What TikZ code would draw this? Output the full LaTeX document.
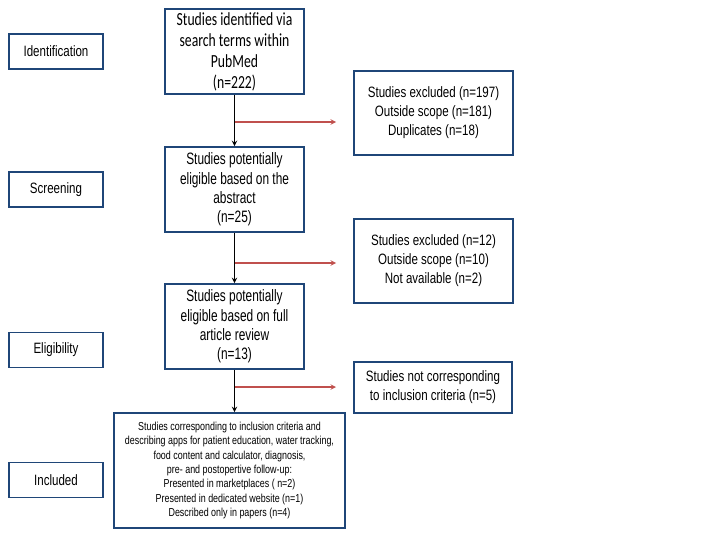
\documentclass[tikz,border=0pt]{standalone}
\usepackage{fontspec}
\setmainfont{Liberation Sans}[FakeStretch=0.77]
\newfontfamily\flowfont{Liberation Sans}[FakeStretch=0.72]
\newfontfamily\calfont{Carlito}[FakeStretch=0.74]
\usepackage{xcolor}
\usepackage{tikz}
\usetikzlibrary{positioning}
\definecolor{boxblue}{RGB}{31,70,120}
\definecolor{arrred}{RGB}{192,80,77}
\tikzset{
  stagebox/.style={draw=boxblue, line width=1.8pt, minimum width=94pt, minimum height=35pt, inner sep=0pt, font=\fontsize{15}{18}\selectfont},
  flowbox/.style={draw=boxblue, line width=1.8pt, minimum width=139pt, minimum height=85pt, inner sep=0pt, align=center, font=\flowfont\fontsize{16.5}{19.3}\selectfont},
  sidebox/.style={draw=boxblue, line width=1.8pt, minimum width=159pt, minimum height=84pt, inner sep=0pt, align=center, font=\fontsize{15}{19}\selectfont},
  downarr/.style={line width=1.4pt, black, -stealth},
  outarr/.style={line width=1.4pt, arrred, -stealth}
}
\begin{document}
\begin{tikzpicture}[x=1pt, y=-1pt]
\useasboundingbox (0,0) rectangle (714,540);
% Stages
\node[stagebox] (ident) at (56,51.5) {Identification};
\node[stagebox] (screen) at (56,189.5) {Screening};
\node[stagebox] (elig) at (56,350) {Eligibility};
\node[stagebox] (incl) at (56,480) {Included};

% Main flow
\node[flowbox, font=\calfont\fontsize{18.5}{21}\selectfont] (found) at (234.5,51.5) {Studies identified via\\search terms within\\PubMed\\(n=222)};
\node[flowbox] (abstr) at (234.5,189.5) {Studies potentially\\eligible based on the\\abstract\\(n=25)};
\node[flowbox] (fullrev) at (234.5,326.5) {Studies potentially\\eligible based on full\\article review\\(n=13)};
\node[flowbox, minimum width=231pt, minimum height=115pt, font=\fontsize{11.6}{14.3}\selectfont] (final) at (229.5,470.5) {Studies corresponding to inclusion criteria and\\describing apps for patient education, water tracking,\\food content  and calculator,  diagnosis,\\pre- and postopertive follow-up:\\Presented in marketplaces  ( n=2)\\Presented in dedicated website (n=1)\\Described only  in papers (n=4)};

% Exclusions
\node[sidebox] (excl1) at (433.5,113) {Studies excluded  (n=197)\\Outside scope (n=181)\\Duplicates (n=18)};
\node[sidebox] (excl2) at (433.5,261) {Studies excluded  (n=12)\\Outside scope (n=10)\\Not available (n=2)};
\node[sidebox, minimum width=158pt, minimum height=51pt] (excl3) at (433,387.5) {Studies not corresponding\\to inclusion criteria (n=5)};

% Arrows
\draw[downarr] (found.south) -- (abstr.north);
\draw[downarr] (abstr.south) -- (fullrev.north);
\draw[downarr] (fullrev.south) -- (fullrev.south |- final.north);
\coordinate (out1a) at (235,122);
\coordinate (out1b) at (336,122);
\coordinate (out2a) at (235,263);
\coordinate (out2b) at (336,263);
\coordinate (out3a) at (235,387);
\coordinate (out3b) at (336,387);
\draw[outarr] (out1a) -- (out1b);
\draw[outarr] (out2a) -- (out2b);
\draw[outarr] (out3a) -- (out3b);
\end{tikzpicture}
\end{document}
